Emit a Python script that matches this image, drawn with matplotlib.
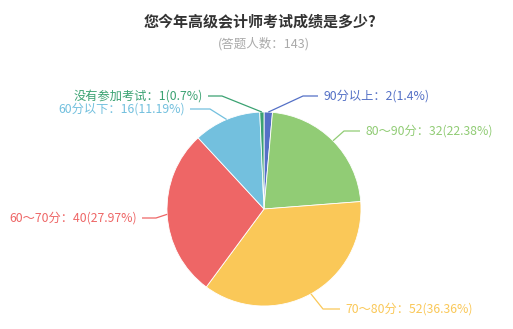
import numpy as np
import matplotlib
matplotlib.use("Agg")
import matplotlib.pyplot as plt

plt.rcParams['font.family'] = ['Noto Sans CJK SC', 'DejaVu Sans']

title = "您今年高级会计师考试成绩是多少?"
categories = ["90分以上", "80～90分", "70～80分", "60～70分", "60分以下", "没有参加考试"]
counts = [2, 32, 52, 40, 16, 1]
colors = ["#5470c6", "#91cc75", "#fac858", "#ee6666", "#73c0de", "#3ba272"]

# label layout in pixels: elbow point, end of horizontal leg, text anchor x, alignment
label_layout = [
    ((303, 96), 318, 324, "left"),
    ((344, 131), 360, 365, "left"),
    ((323, 309), 340, 345, "left"),
    ((156, 218), 142, 137, "right"),
    ((210, 109), 190, 185, "right"),
    ((222, 96), 208, 203, "right"),
]

W, H = 513, 329
fig = plt.figure(figsize=(W / 100, H / 100), dpi=100)
ax = fig.add_axes([0, 0, 1, 1])

total = sum(counts)
cx, cy, r = 264, 209, 97

# y grows downward here, so -90 is the top and counterclock runs clockwise on screen
wedges, _ = ax.pie(counts, colors=colors, startangle=-90, counterclock=True,
                   center=(cx, cy), radius=r,
                   wedgeprops=dict(edgecolor="white", linewidth=0.6))

ax.set_xlim(0, W)
ax.set_ylim(H, 0)
ax.set_aspect("equal")
ax.axis("off")

for w, name, n, col, (elbow, hend, tx, ha) in zip(wedges, categories, counts, colors, label_layout):
    mid = np.deg2rad((w.theta1 + w.theta2) / 2)
    px = cx + r * np.cos(mid)
    py = cy + r * np.sin(mid)
    ax.plot([px, elbow[0], hend], [py, elbow[1], elbow[1]], color=col, lw=0.9,
            solid_capstyle="butt")
    pct = f"{round(n / total * 100, 2):g}"
    ax.text(tx, elbow[1], f"{name}：{n}({pct}%)", color=col, fontsize=8.8,
            ha=ha, va="center")

ax.text(260, 22, title, ha="center", va="center", fontsize=10.8,
        fontweight="bold", color="#333333")
ax.text(264, 44, f"(答题人数：{total})", ha="center", va="center",
        fontsize=9, color="#aaaaaa")

fig.savefig("out.png", dpi=100)
